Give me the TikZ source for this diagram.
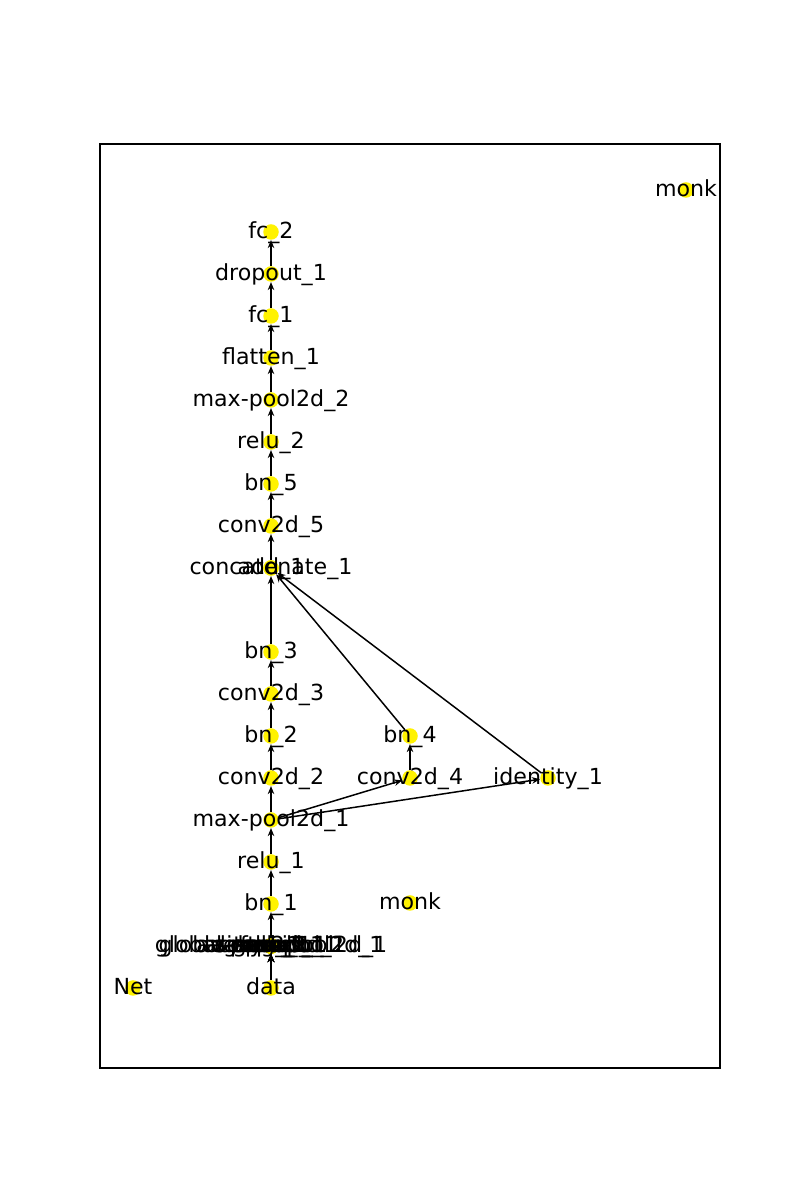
\documentclass[tikz,border=0pt]{standalone}
\usepackage{fontspec}
\setmainfont{DejaVu Sans}
\usetikzlibrary{arrows.meta,positioning}

\begin{document}
\begin{tikzpicture}[scale = 1,
		dot/.style={circle, fill=yellow, inner sep=0pt, minimum size=0.31cm},
		lbl/.style={font=\fontsize{12.6}{15}\selectfont, inner sep=0pt, text height=0.74em, text depth=0em},
		edge/.style={line width=0.85pt, -{Stealth[length=0.16cm,width=0.13cm]}}]
		\useasboundingbox (0,0) rectangle (16,24);
		\draw [line width=0.6pt] (2,2.64) rectangle (14.4,21.12);
		% yellow dots
		\node [dot] (fc2) at (5.42,19.36) {};
		\node [dot] (drop1) at (5.42,18.52) {};
		\node [dot] (fc1) at (5.42,17.68) {};
		\node [dot] (flat1) at (5.42,16.84) {};
		\node [dot] (mp2) at (5.42,16) {};
		\node [dot] (relu2) at (5.42,15.16) {};
		\node [dot] (bn5) at (5.42,14.32) {};
		\node [dot] (conv5) at (5.42,13.48) {};
		\node [dot] (concat1) at (5.42,12.64) {};
		\node [dot] (add1) at (5.42,12.64) {};
		\node [dot] (bn3) at (5.42,10.96) {};
		\node [dot] (conv3) at (5.42,10.12) {};
		\node [dot] (bn2) at (5.42,9.28) {};
		\node [dot] (conv2) at (5.42,8.44) {};
		\node [dot] (mp1) at (5.42,7.6) {};
		\node [dot] (relu1) at (5.42,6.76) {};
		\node [dot] (bn1) at (5.42,5.92) {};
		\node [dot] (data) at (5.42,4.24) {};
		\node [dot] (bn4) at (8.2,9.28) {};
		\node [dot] (conv4) at (8.2,8.44) {};
		\node [dot] (ident1) at (10.96,8.44) {};
		\node [dot] (net) at (2.66,4.24) {};
		\node [dot] (monkA) at (8.2,5.94) {};
		\node [dot] (monkB) at (13.72,20.2) {};
		\foreach \n in {gmp1,gap1,ap1,sig1,tanh1,sp1,lrelu1,prelu1,elu1,selu1,conv1}
			\node [dot] (\n) at (5.42,5.08) {};
		% edges
		\draw [edge] (drop1) -- (fc2);
		\draw [edge] (fc1) -- (drop1);
		\draw [edge] (flat1) -- (fc1);
		\draw [edge] (mp2) -- (flat1);
		\draw [edge] (relu2) -- (mp2);
		\draw [edge] (bn5) -- (relu2);
		\draw [edge] (conv5) -- (bn5);
		\draw [edge] (concat1) -- (conv5);
		\draw [edge] (bn3) -- (concat1);
		\draw [edge] (bn4) -- (concat1);
		\draw [edge] (ident1) -- (add1);
		\draw [edge] (conv3) -- (bn3);
		\draw [edge] (bn2) -- (conv3);
		\draw [edge] (conv2) -- (bn2);
		\draw [edge] (mp1) -- (conv2);
		\draw [edge] (mp1) -- (conv4);
		\draw [edge] (mp1) -- (ident1);
		\draw [edge] (conv4) -- (bn4);
		\draw [edge] (relu1) -- (mp1);
		\draw [edge] (bn1) -- (relu1);
		\draw [edge] (conv1) -- (bn1);
		\foreach \n in {gmp1,gap1,ap1,sig1,tanh1,sp1,lrelu1,prelu1,elu1,selu1,conv1}
			\draw [edge] (data) -- (\n);
		% labels
		\node [lbl] (fc2-l) at (fc2) {fc\_2};
		\node [lbl] (drop1-l) at (drop1) {dropout\_1};
		\node [lbl] (fc1-l) at (fc1) {fc\_1};
		\node [lbl] (flat1-l) at (flat1) {flatten\_1};
		\node [lbl] (mp2-l) at (mp2) {max-pool2d\_2};
		\node [lbl] (relu2-l) at (relu2) {relu\_2};
		\node [lbl] (bn5-l) at (bn5) {bn\_5};
		\node [lbl] (conv5-l) at (conv5) {conv2d\_5};
		\node [lbl] (concat1-l) at (concat1) {concatenate\_1};
		\node [lbl] (add1-l) at (add1) {add\_1};
		\node [lbl] (bn3-l) at (bn3) {bn\_3};
		\node [lbl] (conv3-l) at (conv3) {conv2d\_3};
		\node [lbl] (bn2-l) at (bn2) {bn\_2};
		\node [lbl] (conv2-l) at (conv2) {conv2d\_2};
		\node [lbl] (mp1-l) at (mp1) {max-pool2d\_1};
		\node [lbl] (relu1-l) at (relu1) {relu\_1};
		\node [lbl] (bn1-l) at (bn1) {bn\_1};
		\node [lbl] (bn4-l) at (bn4) {bn\_4};
		\node [lbl] (conv4-l) at (conv4) {conv2d\_4};
		\node [lbl] (ident1-l) at (ident1) {identity\_1};
		\node [lbl] (data-l) at (data) {data};
		\node [lbl] (net-l) at (net) {Net};
		\node [lbl] (monkA-l) at (monkA) {monk};
		\node [lbl] (monkB-l) at (monkB) {monk};
		\foreach \n/\t in {gmp1/global-max-pool2d\_1, gap1/global-avg-pool2d\_1, ap1/avg-pool2d\_1, sig1/sigmoid\_1, tanh1/tanh\_1, sp1/softplus\_1, lrelu1/leaky-relu\_1, prelu1/prelu\_1, elu1/elu\_1, selu1/selu\_1, conv1/conv2d\_1}
			\node [lbl] (\n-l) at (\n) {\t};
\end{tikzpicture}
\end{document}
